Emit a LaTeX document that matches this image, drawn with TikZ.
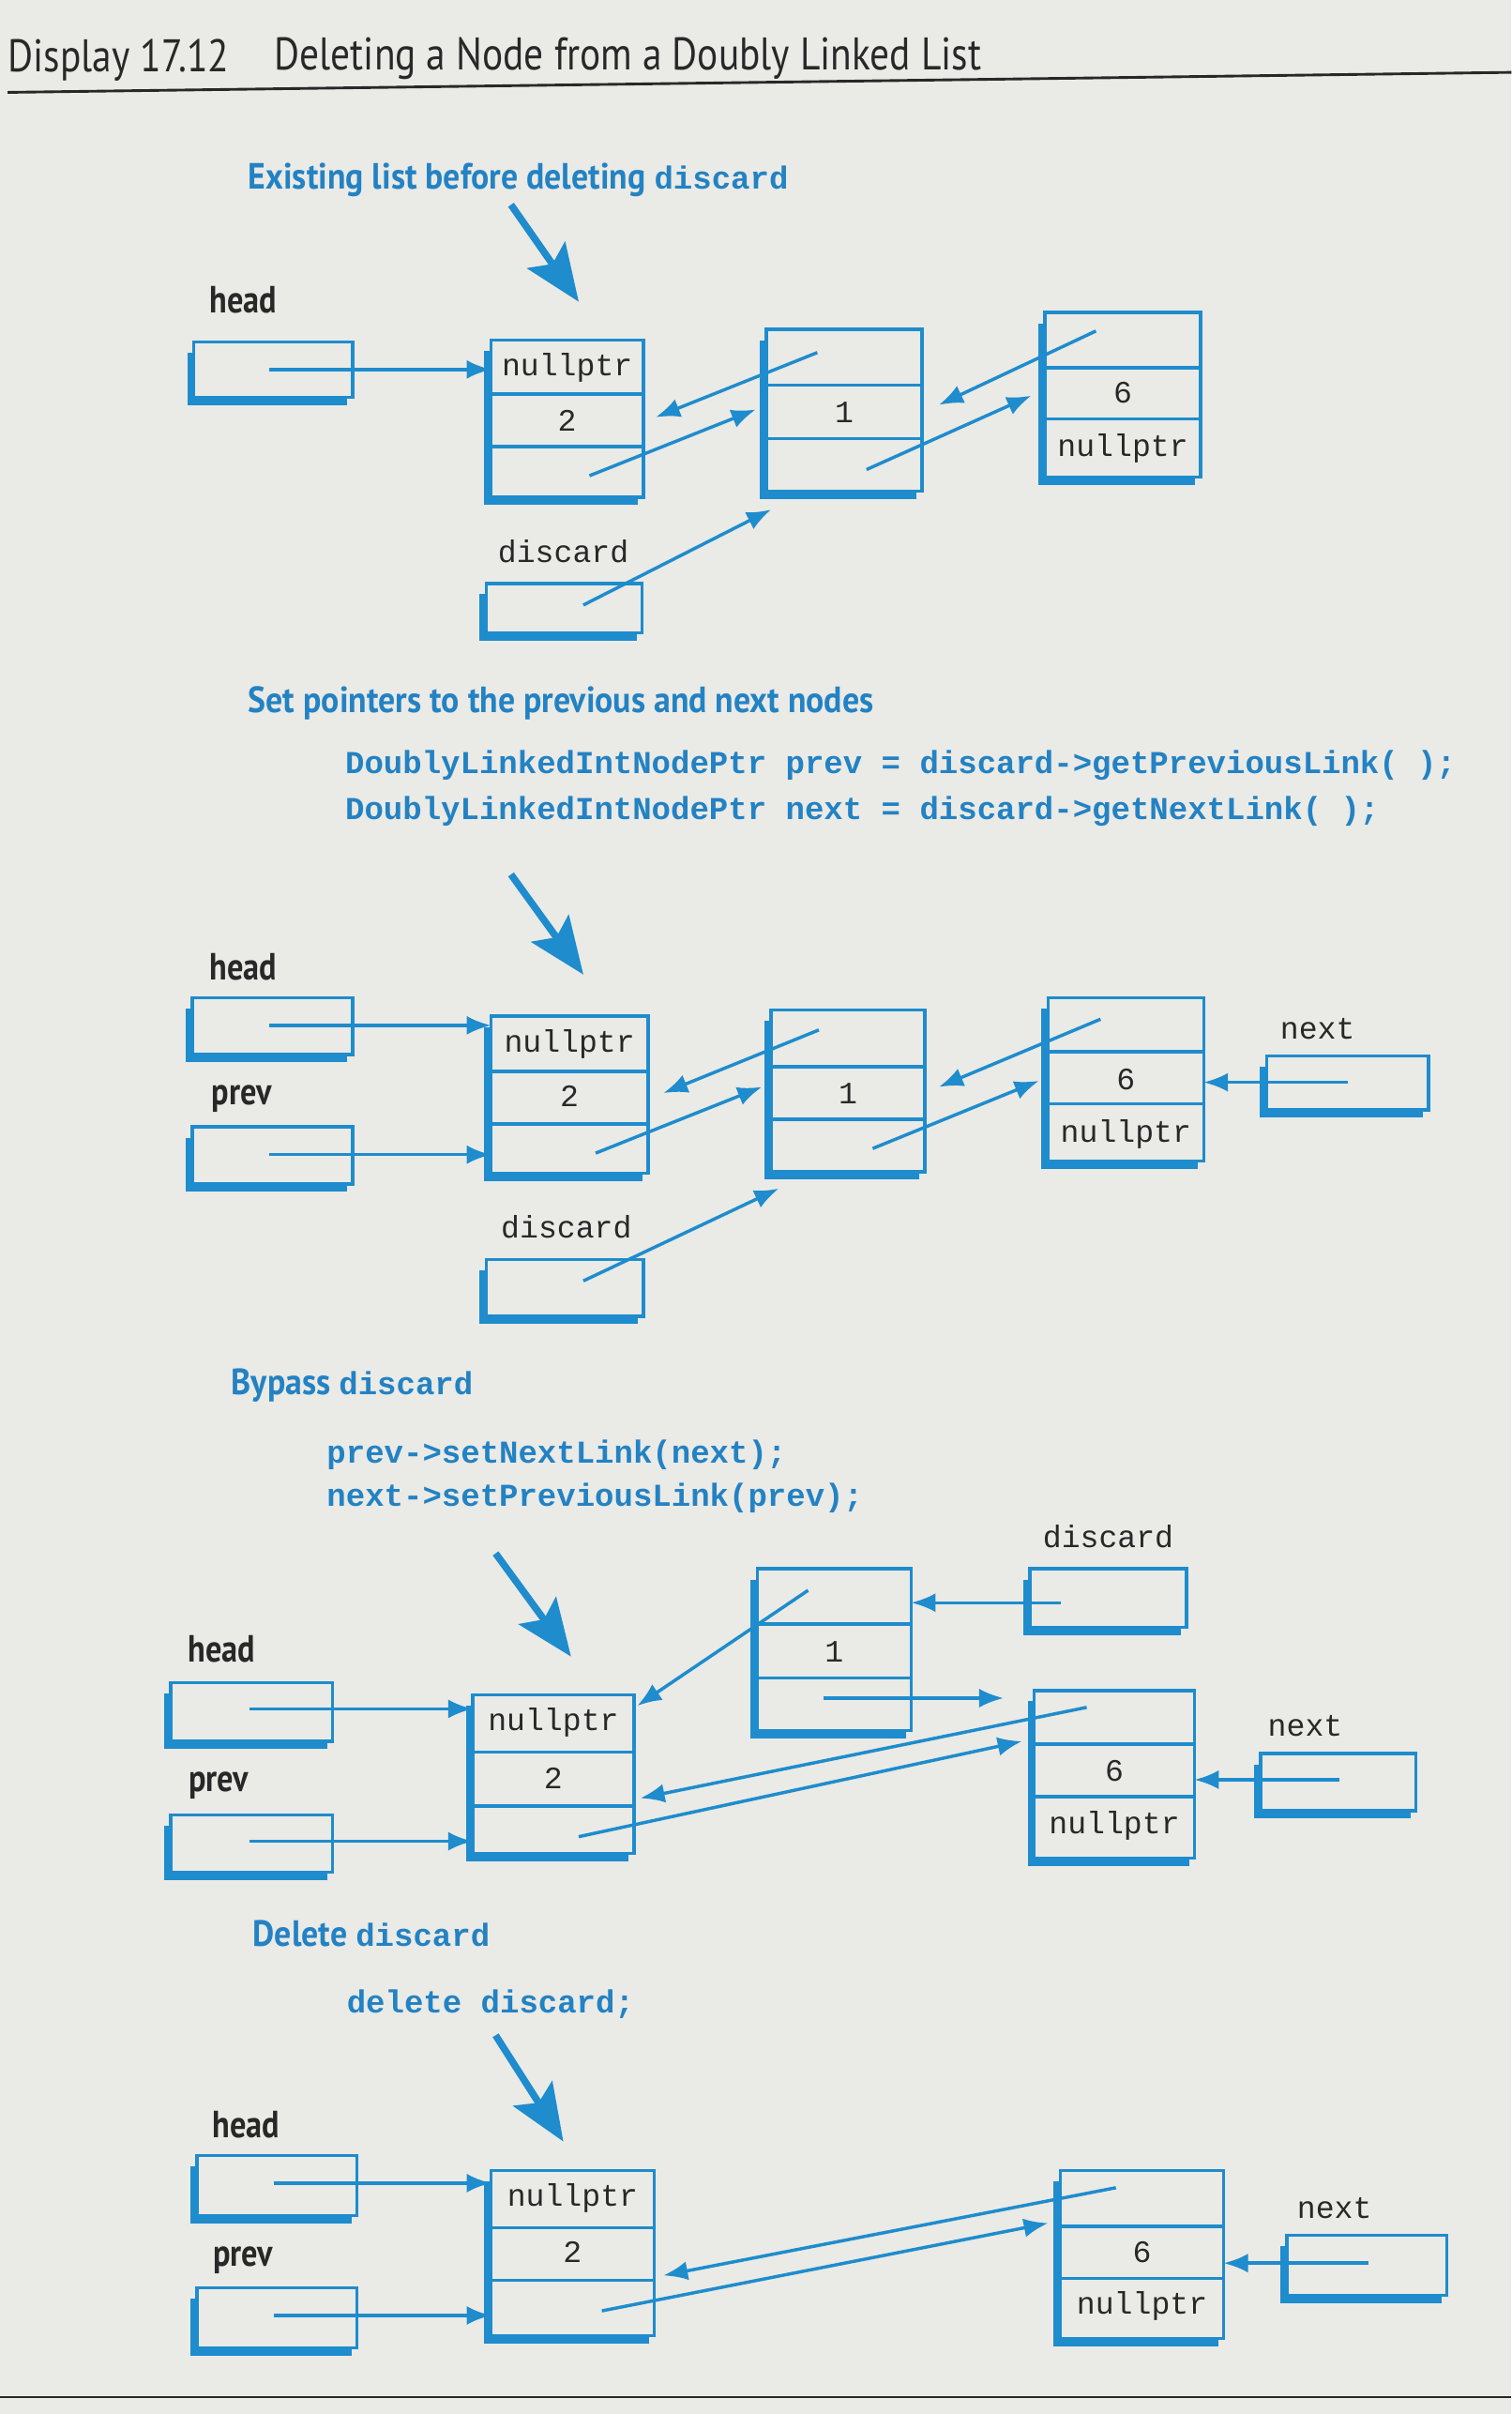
\documentclass[tikz,border=0pt]{standalone}
\usepackage{fontspec}
\setmainfont{PT Sans}
\setmonofont{Liberation Mono}
\newfontfamily\titlefont[FakeStretch=0.85]{PT Sans}
\newfontfamily\headfont[FakeStretch=0.92]{PT Sans}
\newfontfamily\lblfont[FakeStretch=0.85]{PT Sans}
\usetikzlibrary{arrows.meta,fit}
\definecolor{fb}{RGB}{30,140,205}
\definecolor{hb}{RGB}{35,130,195}
\definecolor{paper}{RGB}{234,234,230}
\definecolor{ink}{RGB}{40,40,40}
\tikzset{
  boxst/.style={draw=fb, line width=1.2pt, inner sep=0pt, outer sep=0pt},
  shad/.style={draw=fb, line width=3pt},
  divst/.style={draw=fb, line width=1.2pt},
  linkst/.style={draw=fb, line width=1.2pt, -{Latex[length=9pt,width=7pt]}},
  bigarr/.style={draw=fb, line width=2.6pt, -{Stealth[length=21pt,width=17pt,inset=4pt]}},
  valst/.style={font=\ttfamily\fontsize{11.5}{13}\selectfont, text=ink, inner sep=0pt},
  lbl/.style={font=\lblfont\bfseries\fontsize{14}{16}\selectfont, text=ink, inner sep=0pt},
  headst/.style={font=\headfont\bfseries\fontsize{13.5}{16}\selectfont, text=hb, anchor=west, inner sep=0pt},
  codest/.style={font=\ttfamily\bfseries\fontsize{11.8}{14}\selectfont, text=hb, anchor=west, inner sep=0pt},
}
\newcommand\PtrBox[5]{%
  \node[boxst, fit={(#2,#3) (#4,#5)}] (#1) {};
  \draw[shad] ([xshift=-1pt,yshift=-4pt]#1.north west) -- ([xshift=-1pt,yshift=-1.4pt]#1.south west) -- ([xshift=-2pt,yshift=-1.4pt]#1.south east);
}
\newcommand\ListNode[7]{%
  \PtrBox{#1}{#2}{#3}{#4}{#5}
  \draw[divst] (#2,#6) -- (#4,#6);
  \draw[divst] (#2,#7) -- (#4,#7);
}
\newcommand\MonoPart[1]{{\ttfamily\fontsize{11.8}{13}\selectfont #1}}
\begin{document}
\begin{tikzpicture}[x=0.02cm,y=-0.02cm]
\fill[paper] (0,0) rectangle (982,1568);
\useasboundingbox (0,0) rectangle (982,1568);

% title
\node[anchor=west, inner sep=0pt, text=ink, font=\titlefont\fontsize{16.9}{19}\selectfont] (ttl1) at (5,39) {Display 17.12};
\node[anchor=west, inner sep=0pt, text=ink, font=\titlefont\fontsize{16.9}{19}\selectfont] (ttl2) at (178,38) {Deleting a Node from a Doubly Linked List};
\draw[ink, line width=1pt] (5,60) -- (982,47);

%================ Section 1
\node[headst] (hd1) at (161,117) {Existing list before deleting \MonoPart{discard}};
\coordinate (ba1s) at (332,133);
\coordinate (ba1e) at (376,196);
\draw[bigarr] (ba1s) -- (ba1e);

\node[lbl] (head1) at (158,195) {head};
\PtrBox{h1}{126}{222}{229}{258}
\ListNode{A1}{319}{221}{418}{323}{256}{290}
\node[valst] (A1a) at (368.5,239) {nullptr};
\node[valst] (A1b) at (368.5,273) {2};
\ListNode{B1}{498}{214}{599}{319}{250}{285}
\node[valst] (B1b) at (548.5,268) {1};
\ListNode{C1}{679}{203}{780}{310}{239}{272}
\node[valst] (C1b) at (729.5,255) {6};
\node[valst] (C1c) at (729.5,291) {nullptr};
\node[valst] (dl1) at (366,358) {discard};
\PtrBox{d1}{316}{379}{417}{411}

\coordinate (h1p) at (175,240);
\draw[linkst] (h1p) -- (h1p -| A1.west);
\coordinate (B1p) at (531,229);  \coordinate (A1r) at (426,271);
\draw[linkst] (B1p) -- (A1r);
\coordinate (A1n) at (383,309);  \coordinate (B1l) at (491,266);
\draw[linkst] (A1n) -- (B1l);
\coordinate (C1p) at (712,215);  \coordinate (B1r) at (610,263);
\draw[linkst] (C1p) -- (B1r);
\coordinate (B1n) at (563,305);  \coordinate (C1l) at (670,257);
\draw[linkst] (B1n) -- (C1l);
\coordinate (d1p) at (379,393);  \coordinate (B1bot) at (501,331);
\draw[linkst] (d1p) -- (B1bot);

%================ Section 2
\node[headst] (hd2) at (161,457) {Set pointers to the previous and next nodes};
\node[codest] (cd2a) at (224,497) {DoublyLinkedIntNodePtr prev = discard->getPreviousLink( );};
\node[codest] (cd2b) at (224,527) {DoublyLinkedIntNodePtr next = discard->getNextLink( );};
\coordinate (ba2s) at (332,568);
\coordinate (ba2e) at (379,633);
\draw[bigarr] (ba2s) -- (ba2e);

\node[lbl] (head2) at (158,628) {head};
\PtrBox{h2}{125}{648}{229}{685}
\node[lbl] (prev2) at (157,714) {prev};
\PtrBox{p2}{125}{732}{229}{769}
\ListNode{A2}{319}{660}{421}{762}{696}{730}
\node[valst] (A2a) at (370,678) {nullptr};
\node[valst] (A2b) at (370,712) {2};
\ListNode{B2}{501}{656}{601}{761}{693}{727}
\node[valst] (B2b) at (551,710) {1};
\ListNode{C2}{681}{648}{782}{754}{683}{717}
\node[valst] (C2b) at (731.5,701) {6};
\node[valst] (C2c) at (731.5,737) {nullptr};
\node[valst] (nl2) at (856,668) {next};
\PtrBox{n2}{823}{686}{928}{721}
\node[valst] (dl2) at (368,797) {discard};
\PtrBox{d2}{316}{818}{418}{855}

\coordinate (h2p) at (175,666);
\draw[linkst] (h2p) -- (h2p -| A2.west);
\coordinate (p2p) at (175,750);
\draw[linkst] (p2p) -- (p2p -| A2.west);
\coordinate (n2p) at (876,703);
\draw[linkst] (n2p) -- (n2p -| C2.east);
\coordinate (B2p) at (532,669);  \coordinate (A2r) at (431,710);
\draw[linkst] (B2p) -- (A2r);
\coordinate (A2n) at (387,749);  \coordinate (B2l) at (495,706);
\draw[linkst] (A2n) -- (B2l);
\coordinate (C2p) at (715,662);  \coordinate (B2r) at (610,706);
\draw[linkst] (C2p) -- (B2r);
\coordinate (B2n) at (567,746);  \coordinate (C2l) at (675,702);
\draw[linkst] (B2n) -- (C2l);
\coordinate (d2p) at (379,832);  \coordinate (B2bot) at (506,772);
\draw[linkst] (d2p) -- (B2bot);

%================ Section 3
\node[headst] (hd3) at (150,900) {Bypass \MonoPart{discard}};
\node[codest] (cd3a) at (212,945) {prev->setNextLink(next);};
\node[codest] (cd3b) at (212,973) {next->setPreviousLink(prev);};
\coordinate (ba3s) at (322,1009);
\coordinate (ba3e) at (371,1076);
\draw[bigarr] (ba3s) -- (ba3e);

\node[valst] (dl3) at (720,998) {discard};
\PtrBox{d3}{669}{1019}{771}{1057}
\ListNode{B3}{492}{1019}{592}{1124}{1055}{1090}
\node[valst] (B3b) at (542,1073) {1};
\ListNode{A3}{307}{1101}{412}{1204}{1138}{1173}
\node[valst] (A3a) at (359.5,1119) {nullptr};
\node[valst] (A3b) at (359.5,1155) {2};
\ListNode{C3}{672}{1098}{776}{1207}{1133}{1167}
\node[valst] (C3b) at (724,1150) {6};
\node[valst] (C3c) at (724,1186) {nullptr};
\node[lbl] (head3) at (144,1071) {head};
\PtrBox{h3}{111}{1093}{216}{1131}
\node[lbl] (prev3) at (142,1160) {prev};
\PtrBox{p3}{111}{1179}{216}{1216}
\node[valst] (nl3) at (848,1121) {next};
\PtrBox{n3}{819}{1139}{920}{1176}

\coordinate (h3p) at (162,1110);
\draw[linkst] (h3p) -- (h3p -| A3.west);
\coordinate (p3p) at (162,1196);
\draw[linkst] (p3p) -- (p3p -| A3.west);
\coordinate (n3p) at (870,1156);
\draw[linkst] (n3p) -- (n3p -| C3.east);
\coordinate (d3p) at (689,1041);
\draw[linkst] (d3p) -- (d3p -| B3.east);
\coordinate (B3p) at (525,1033);  \coordinate (A3ne) at (414,1108);
\draw[linkst] (B3p) -- (A3ne);
\coordinate (B3n) at (535,1103);  \coordinate (C3w) at (652,1103);
\draw[linkst] (B3n) -- (C3w);
\coordinate (C3p) at (706,1109);  \coordinate (A3r) at (416,1168);
\draw[linkst] (C3p) -- (A3r);
\coordinate (A3n) at (376,1193);  \coordinate (C3l) at (664,1131);
\draw[linkst] (A3n) -- (C3l);

%================ Section 4
\node[headst] (hd4) at (164,1256) {Delete \MonoPart{discard}};
\node[codest] (cd4) at (225,1302) {delete discard;};
\coordinate (ba4s) at (322,1322);
\coordinate (ba4e) at (366,1391);
\draw[bigarr] (ba4s) -- (ba4e);

\node[lbl] (head4) at (160,1380) {head};
\PtrBox{h4}{128}{1400}{232}{1439}
\node[lbl] (prev4) at (158,1468) {prev};
\PtrBox{p4}{128}{1486}{232}{1525}
\ListNode{A4}{319}{1410}{425}{1517}{1447}{1481}
\node[valst] (A4a) at (372,1428) {nullptr};
\node[valst] (A4b) at (372,1463) {2};
\ListNode{C4}{689}{1410}{795}{1519}{1446}{1480}
\node[valst] (C4b) at (742,1463) {6};
\node[valst] (C4c) at (742,1498) {nullptr};
\node[valst] (nl4) at (867,1434) {next};
\PtrBox{n4}{836}{1452}{940}{1491}

\coordinate (h4p) at (178,1418);
\draw[linkst] (h4p) -- (h4p -| A4.west);
\coordinate (p4p) at (178,1504);
\draw[linkst] (p4p) -- (p4p -| A4.west);
\coordinate (n4p) at (889,1470);
\draw[linkst] (n4p) -- (n4p -| C4.east);
\coordinate (C4p) at (725,1421);  \coordinate (A4r) at (431,1478);
\draw[linkst] (C4p) -- (A4r);
\coordinate (A4n) at (391,1501);  \coordinate (C4l) at (681,1444);
\draw[linkst] (A4n) -- (C4l);

\draw[ink, line width=1pt] (0,1557) -- (982,1557);
\end{tikzpicture}
\end{document}
